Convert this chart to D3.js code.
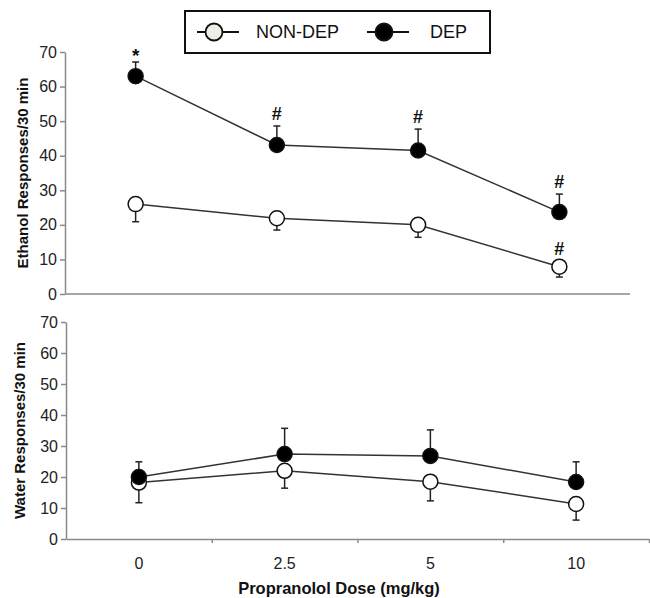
<!DOCTYPE html>
<html>
<head>
<meta charset="utf-8">
<script src="https://cdn.jsdelivr.net/npm/d3@7"></script>
<style>
  body { margin: 0; background: #fff; }
  svg { font-family: "Liberation Sans", Arial, sans-serif; }
  .axis path, .axis line { stroke: #8a8a8a; stroke-width: 1.5px; }
  .axis text { font-family: "Liberation Sans", Arial, sans-serif; font-size: 16px; fill: #222; }
</style>
</head>
<body>
<script>
  var doses = ['0', '2.5', '5', '10'];
  var yTicks = [0, 10, 20, 30, 40, 50, 60, 70];

  // ethanol panel
  var ethDep = [63, 43.1, 41.5, 23.7];
  var ethDepErr = [4.1, 5.5, 6.2, 5.2];
  var ethNon = [26, 21.9, 20, 7.9];
  var ethNonErr = [5.1, 3.4, 3.6, 3];
  var ethDepMarks = ['*', '#', '#', '#'];
  var ethNonMarks = ['', '', '', '#'];

  // water panel
  var watDep = [20, 27.4, 26.8, 18.4];
  var watDepErr = [4.9, 8.3, 8.4, 6.5];
  var watNon = [18.2, 22, 18.5, 11.3];
  var watNonErr = [6.5, 5.6, 6.2, 5.2];

  var w = 650, h = 598;
  var svg = d3.select("body").append("svg")
      .attr("width", w)
      .attr("height", h);

  var r = 7.5;

  function panel(opts) {
    var x = d3.scaleBand().domain(doses).range([opts.left, opts.right]);
    var y = d3.scaleLinear().domain([0, 70]).range([opts.bottom, opts.top]);
    var cx = function (i) { return x(doses[i]) + x.bandwidth() / 2; };
    var g = svg.append("g");

    // y axis
    g.append("g").attr("class", "axis")
        .attr("transform", "translate(" + opts.left + ",0)")
        .call(d3.axisLeft(y).tickValues(yTicks).tickSize(5).tickSizeOuter(0).tickPadding(3));

    // x axis line
    var xa = g.append("g").attr("class", "axis")
        .attr("transform", "translate(0," + opts.bottom + ")");
    if (opts.xTicks) {
      var xb = d3.scaleLinear().domain([0, doses.length]).range([opts.left, opts.right]);
      xa.call(d3.axisBottom(xb).tickValues([1, 2, 3, 4]).tickFormat("").tickSize(4).tickSizeOuter(0));
      var lab = g.append("g").attr("class", "axis")
          .attr("transform", "translate(0," + opts.bottom + ")")
          .call(d3.axisBottom(x).tickSize(0).tickPadding(19));
      lab.select(".domain").remove();
    } else {
      xa.append("line").attr("x1", opts.left).attr("x2", opts.right);
    }

    // y title
    g.append("text")
        .attr("transform", "translate(" + opts.titleX + "," + ((opts.top + opts.bottom) / 2) + ") rotate(-90)")
        .attr("text-anchor", "middle")
        .attr("dy", "0.35em")
        .style("font-size", "15px")
        .style("font-weight", "bold")
        .style("fill", "#111")
        .text(opts.title);

    var series = [
      { vals: opts.non, err: opts.nonErr, dir: 1, fill: '#fff' },
      { vals: opts.dep, err: opts.depErr, dir: -1, fill: '#000' }
    ];
    var line = d3.line()
        .x(function (d, i) { return cx(i); })
        .y(function (d) { return y(d); });

    series.forEach(function (s) {
      g.append("path")
          .datum(s.vals)
          .attr("d", line)
          .attr("fill", "none")
          .attr("stroke", "#333")
          .attr("stroke-width", 1.5);
    });

    series.forEach(function (s) {
      var eb = g.append("g").selectAll("g").data(s.vals).enter().append("g");
      eb.append("line")
          .attr("x1", function (d, i) { return cx(i); })
          .attr("x2", function (d, i) { return cx(i); })
          .attr("y1", function (d) { return y(d); })
          .attr("y2", function (d, i) { return y(d - s.dir * s.err[i]); })
          .attr("stroke", "#222").attr("stroke-width", 1.5);
      eb.append("line")
          .attr("x1", function (d, i) { return cx(i) - 3.5; })
          .attr("x2", function (d, i) { return cx(i) + 3.5; })
          .attr("y1", function (d, i) { return y(d - s.dir * s.err[i]); })
          .attr("y2", function (d, i) { return y(d - s.dir * s.err[i]); })
          .attr("stroke", "#222").attr("stroke-width", 1.5);
    });

    series.forEach(function (s) {
      g.append("g").selectAll("circle").data(s.vals).enter().append("circle")
          .attr("cx", function (d, i) { return cx(i); })
          .attr("cy", function (d) { return y(d); })
          .attr("r", r)
          .attr("fill", s.fill)
          .attr("stroke", "#111")
          .attr("stroke-width", 1.5);
    });

    return { x: cx, y: y, g: g };
  }

  var ethPanel = panel({
    left: 65, right: 630, top: 52, bottom: 294, titleX: 23,
    title: "Ethanol Responses/30 min",
    dep: ethDep, depErr: ethDepErr, non: ethNon, nonErr: ethNonErr,
    xTicks: false
  });

  // significance marks
  ethPanel.g.append("g").selectAll("text").data(ethDep).enter().append("text")
      .attr("x", function (d, i) { return ethPanel.x(i); })
      .attr("y", function (d, i) { return ethPanel.y(d + ethDepErr[i]) - (ethDepMarks[i] === '*' ? 0 : 6); })
      .attr("text-anchor", "middle")
      .style("font-size", function (d, i) { return ethDepMarks[i] === '*' ? "19px" : "18px"; })
      .style("font-weight", "bold")
      .style("fill", "#111")
      .text(function (d, i) { return ethDepMarks[i]; });
  ethPanel.g.append("g").selectAll("text").data(ethNon).enter().append("text")
      .attr("x", function (d, i) { return ethPanel.x(i); })
      .attr("y", function (d) { return ethPanel.y(d) - 12; })
      .attr("text-anchor", "middle")
      .style("font-size", "18px")
      .style("font-weight", "bold")
      .style("fill", "#111")
      .text(function (d, i) { return ethNonMarks[i]; });

  panel({
    left: 66, right: 649, top: 322, bottom: 539, titleX: 20,
    title: "Water Responses/30 min",
    dep: watDep, depErr: watDepErr, non: watNon, nonErr: watNonErr,
    xTicks: true
  });

  svg.append("text")
      .attr("x", 339).attr("y", 594)
      .attr("text-anchor", "middle")
      .style("font-size", "16.5px")
      .style("font-weight", "bold")
      .style("fill", "#111")
      .text("Propranolol Dose (mg/kg)");

  // legend
  var legend = svg.append("g");
  legend.append("rect")
      .attr("x", 185).attr("y", 11).attr("width", 305).attr("height", 42)
      .attr("fill", "#fff").attr("stroke", "#111").attr("stroke-width", 2);
  var items = [
    { label: 'NON-DEP', fill: '#eeeee4', x: 197, tx: 256 },
    { label: 'DEP', fill: '#000', x: 367, tx: 430 }
  ];
  items.forEach(function (it) {
    legend.append("line")
        .attr("x1", it.x).attr("x2", it.x + 42).attr("y1", 32).attr("y2", 32)
        .attr("stroke", "#111").attr("stroke-width", 1.8);
    legend.append("circle")
        .attr("cx", it.x + 17).attr("cy", 32).attr("r", 8.5)
        .attr("fill", it.fill).attr("stroke", "#111").attr("stroke-width", 1.8);
    legend.append("text")
        .attr("x", it.tx).attr("y", 32).attr("dy", "0.35em")
        .style("font-size", "18px")
        .style("fill", "#111")
        .text(it.label);
  });
</script>
</body>
</html>
